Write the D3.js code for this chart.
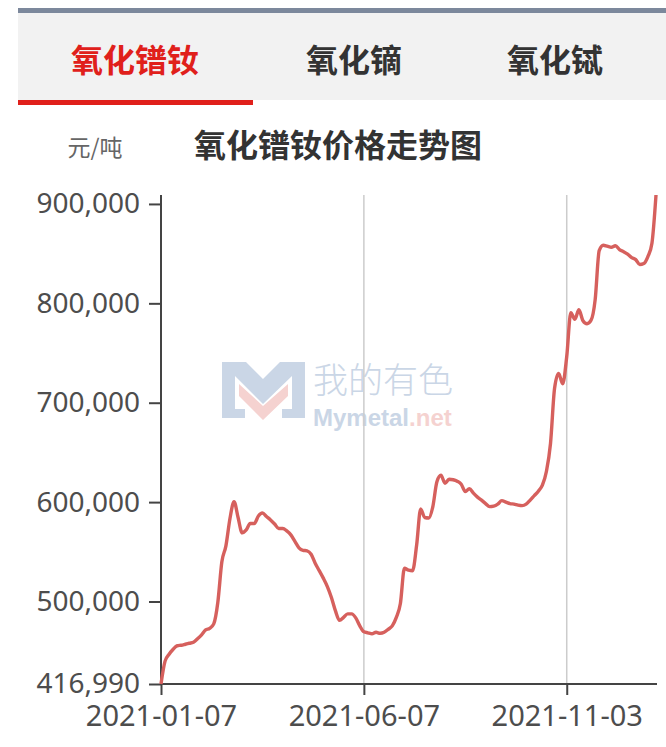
<!DOCTYPE html>
<html>
<head>
<meta charset="utf-8">
<script src="https://cdn.jsdelivr.net/npm/d3@7/dist/d3.min.js"></script>
<style>
  html, body { margin: 0; padding: 0; background: #fff; }
  svg { display: block; }
</style>
</head>
<body>
<svg id="chart" width="666" height="747"></svg>
<script>
// ---- data ----
const tabs = ["氧化镨钕", "氧化镝", "氧化铽"];
const unitLabel = "元/吨";
const chartTitle = "氧化镨钕价格走势图";
// prices sampled every second trading day, 2021-01-07 .. 2022-01
const values = [
  416990, 440000, 447000, 452000, 455500, 456000, 457000, 458000, 459000, 462500,
  466500, 471500, 473000, 477500, 499000, 540000, 556000, 583500, 600500, 584500,
  569000, 572000, 578500, 578500, 586000, 589000, 585500, 582000, 578000, 573500,
  573500, 571000, 567000, 560500, 554000, 551500, 551000, 547500, 538500, 531000,
  523500, 515000, 504000, 490500, 481000, 484000, 487500, 487500, 483500, 475500,
  469500, 468500, 467500, 469000, 468000, 469000, 472000, 475500, 484000, 498000,
  533500, 531500, 531000, 556500, 593000, 584500, 584000, 595500, 620500, 627000,
  619000, 623000, 622500, 621000, 618000, 610500, 613500, 609000, 605000, 602000,
  598500, 595500, 596000, 598000, 601500, 600000, 598500, 598000, 597000, 596500,
  598000, 602000, 606500, 611000, 617000, 631000, 659000, 714500, 729500, 719000,
  746500, 790500, 784000, 793500, 782500, 779500, 783000, 803500, 853000, 858500,
  857500, 856500, 858000, 854000, 852000, 849500, 846000, 844000, 839000, 840000,
  847000, 860500, 909000
];
const xTickIndex = [0, 50, 100];
const xTickLabels = ["2021-01-07", "2021-06-07", "2021-11-03"];
const yTicks = [416990, 500000, 600000, 700000, 800000, 900000];

// ---- drawing ----
const svg = d3.select("#chart");
const W = 666, H = 747;
svg.append("rect").attr("width", W).attr("height", H).attr("fill", "#fff");

// tab header
const tabX = [135, 354, 555];
svg.append("rect").attr("x", 18).attr("y", 8).attr("width", W - 18).attr("height", 5).attr("fill", "#7c889c");
svg.append("rect").attr("x", 18).attr("y", 13).attr("width", W - 18).attr("height", 87).attr("fill", "#f2f2f2");
svg.append("rect").attr("x", 18).attr("y", 100).attr("width", 235).attr("height", 5).attr("fill", "#e0201b");
svg.selectAll("text.tab").data(tabs).enter().append("text")
  .attr("class", "tab")
  .attr("x", (d, i) => tabX[i]).attr("y", 72)
  .attr("text-anchor", "middle")
  .attr("font-family", "'Noto Sans CJK SC', sans-serif")
  .attr("font-weight", "bold").attr("font-size", 32)
  .attr("fill", (d, i) => i === 0 ? "#e0201b" : "#333")
  .text(d => d);

// title and unit
svg.append("text").attr("x", 95).attr("y", 156).attr("text-anchor", "middle")
  .attr("font-family", "'Noto Sans CJK SC', sans-serif").attr("font-size", 23)
  .attr("fill", "#666").text(unitLabel);
svg.append("text").attr("x", 338).attr("y", 157).attr("text-anchor", "middle")
  .attr("font-family", "'Noto Sans CJK SC', sans-serif").attr("font-weight", "bold")
  .attr("font-size", 32).attr("fill", "#333").text(chartTitle);

// scales
const x0 = 161, x1 = 656, yTop = 195, yBot = 684;
const x = d3.scaleLinear().domain([0, values.length - 1]).range([x0, x1]);
const y = d3.scaleLinear().domain([d3.min(values), d3.max(values)]).range([yBot, yTop]);

// watermark
const wm = svg.append("g").attr("transform", "translate(222,362)");
wm.append("path")
  .attr("d", "M0,0 H24 L41,17 L58,0 H83 V56 H60 V47 H70 V14 L41,42 L13,14 V47 H23 V56 H0 Z")
  .attr("fill", "#cad6e6");
wm.append("path")
  .attr("d", "M17,22 L41,44 L66,22 V34 L41,58 L17,34 Z")
  .attr("fill", "#f5d2d0");
wm.append("text").attr("x", 91).attr("y", 31)
  .attr("font-family", "'Noto Sans CJK SC', sans-serif").attr("font-size", 35)
  .attr("font-weight", 300).attr("fill", "#cad6e6").text("我的有色");
const wmt = wm.append("text").attr("x", 91).attr("y", 64)
  .attr("font-family", "'Liberation Sans', Arial, sans-serif").attr("font-size", 24)
  .attr("font-weight", "bold");
wmt.append("tspan").attr("fill", "#cad6e6").text("Mymetal");
wmt.append("tspan").attr("fill", "#f5d2d0").text(".net");

// vertical gridlines
svg.append("g").selectAll("line").data(xTickIndex.slice(1)).enter().append("line")
  .attr("x1", d => x(d)).attr("x2", d => x(d))
  .attr("y1", yTop).attr("y2", yBot)
  .attr("stroke", "#cccccc").attr("stroke-width", 1.5);

// axes
const fmt = d3.format(",");
const yAxis = d3.axisLeft(y).tickValues(yTicks).tickFormat(fmt).tickSize(12).tickPadding(9);
const gy = svg.append("g").attr("transform", `translate(${x0},0)`).call(yAxis);
gy.select(".domain").attr("stroke", "#444").attr("stroke-width", 2).attr("d", `M0,${yTop}V${yBot}`);
gy.selectAll(".tick line").attr("stroke", "#444").attr("stroke-width", 2);
gy.selectAll(".tick text").attr("font-family", "'Noto Sans', sans-serif").attr("font-size", 28).attr("fill", "#4d4d4d");

const xAxis = d3.axisBottom(x).tickValues(xTickIndex).tickFormat((d, i) => xTickLabels[i]).tickSize(11).tickPadding(10);
const gx = svg.append("g").attr("transform", `translate(0,${yBot})`).call(xAxis);
gx.select(".domain").attr("stroke", "#444").attr("stroke-width", 2).attr("d", `M${x0},0H${x1 + 1}`);
gx.selectAll(".tick line").attr("stroke", "#444").attr("stroke-width", 2);
gx.selectAll(".tick text").attr("font-family", "'Noto Sans', sans-serif").attr("font-size", 29).attr("fill", "#4d4d4d");

// line
const line = d3.line().x((d, i) => x(i)).y(d => y(d)).curve(d3.curveMonotoneX);
svg.append("path").datum(values)
  .attr("d", line)
  .attr("fill", "none")
  .attr("stroke", "#d6605d")
  .attr("stroke-width", 3.4)
  .attr("stroke-linejoin", "round");
</script>
</body>
</html>
